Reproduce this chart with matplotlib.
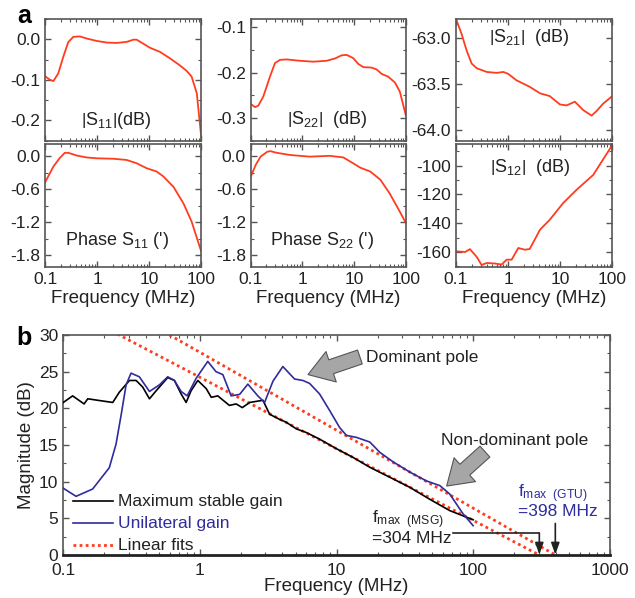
import math
import matplotlib
matplotlib.use("Agg")
import matplotlib.pyplot as plt
from matplotlib.ticker import FixedLocator, MultipleLocator, LogLocator, NullFormatter
from matplotlib.patches import FancyArrowPatch

plt.rcParams['font.family'] = ['Liberation Sans', 'DejaVu Sans']
plt.rcParams['mathtext.fontset'] = 'custom'
plt.rcParams['mathtext.rm'] = 'Liberation Sans'
plt.rcParams['mathtext.it'] = 'Liberation Sans:italic'
plt.rcParams['mathtext.bf'] = 'Liberation Sans:bold'
plt.rcParams['axes.unicode_minus'] = False

# ---------------- data: panel a ----------------
s11_mag_f = [0.1, 0.125, 0.145, 0.18, 0.225, 0.28, 0.35, 0.47, 0.63, 0.98, 1.53, 2.38, 3.7, 5.0, 5.8,
             7.8, 10.5, 16.2, 25.4, 39.8, 53, 66, 83, 100]
s11_mag = [-0.091, -0.100, -0.103, -0.084, -0.043, -0.007, 0.006, 0.007, 0.002, -0.004, -0.008, -0.009,
           -0.0065, -0.001, -0.001, -0.011, -0.021, -0.031, -0.047, -0.065, -0.078, -0.092, -0.133, -0.235]

s11_ph_f = [0.1, 0.145, 0.19, 0.24, 0.28, 0.41, 0.63, 0.98, 2.07, 3.7, 5.8, 9.0, 14, 18.9, 29.6, 46, 66, 100]
s11_ph = [-0.48, -0.19, -0.04, 0.06, 0.06, 0.01, -0.024, -0.04, -0.048, -0.07, -0.13, -0.22, -0.28, -0.37,
          -0.56, -0.86, -1.19, -1.72]

s22_mag_f = [0.1, 0.121, 0.140, 0.175, 0.236, 0.295, 0.369, 0.497, 0.90, 1.62, 2.94, 4.27, 5.75, 7.2, 9.6,
             12.1, 15.1, 21.9, 27.3, 34.3, 46, 62, 77, 100]
s22_mag = [-0.269, -0.276, -0.273, -0.253, -0.209, -0.179, -0.172, -0.171, -0.174, -0.176, -0.174, -0.169,
           -0.162, -0.161, -0.168, -0.181, -0.188, -0.189, -0.193, -0.203, -0.209, -0.222, -0.242, -0.293]

s22_ph_f = [0.1, 0.125, 0.155, 0.21, 0.24, 0.32, 0.58, 1.4, 3.4, 6.2, 9.6, 13.2, 20.6, 32.4, 49, 71, 100]
s22_ph = [-0.375, -0.16, -0.01, 0.08, 0.09, 0.06, 0.02, -0.01, 0.005, -0.024, -0.13, -0.21, -0.28, -0.43,
          -0.68, -0.95, -1.21]

s21_f = [0.1, 0.128, 0.16, 0.2, 0.25, 0.39, 0.6, 0.81, 1.0, 1.45, 2.6, 4.1, 6.3, 9.9, 13.3, 19.1, 27.6, 40,
         50, 67, 100]
s21 = [-62.80, -62.96, -63.14, -63.28, -63.33, -63.37, -63.38, -63.37, -63.39, -63.46, -63.53, -63.60,
       -63.63, -63.72, -63.73, -63.69, -63.78, -63.84, -63.79, -63.71, -63.63]

s12_f = [0.1, 0.15, 0.185, 0.215, 0.25, 0.31, 0.39, 0.56, 0.75, 0.94, 1.17, 1.57, 2.1, 2.6, 4.1, 6.3, 11.4,
         20.6, 43, 100]
s12 = [-159.5, -160, -158, -160.7, -163.4, -169, -167.6, -168, -168.7, -165.3, -165.3, -157.2, -158.4,
       -157.9, -144.5, -137.6, -126, -116.8, -106.5, -85.7]

# ---------------- data: panel b ----------------
msg_f = [0.1, 0.117, 0.142, 0.151, 0.194, 0.230, 0.257, 0.305, 0.341, 0.381, 0.427, 0.478, 0.581, 0.650,
         0.728, 0.792, 0.861, 0.964, 1.11, 1.21, 1.35, 1.64, 1.84, 2.04, 2.31, 2.89, 3.23, 3.82, 4.28, 5.07,
         6.0, 7.5, 9.95, 13.2, 17.5, 24.5, 34.3, 48.0, 67.3, 99.7]
msg = [20.8, 21.7, 20.6, 21.3, 21.0, 20.8, 22.2, 23.8, 23.8, 22.9, 21.3, 22.4, 24.2, 23.8, 21.96, 20.8,
       22.4, 23.8, 22.7, 21.5, 21.7, 20.4, 20.6, 20.1, 20.8, 21.1, 19.2, 18.5, 18.1, 17.2, 16.7, 15.8,
       14.5, 13.3, 11.96, 10.6, 9.23, 7.6, 6.05, 4.8]

gtu_f = [0.1, 0.124, 0.164, 0.217, 0.243, 0.265, 0.288, 0.313, 0.360, 0.427, 0.505, 0.581, 0.650, 0.728,
         0.806, 0.938, 1.14, 1.31, 1.47, 1.69, 1.95, 2.24, 2.65, 2.97, 3.42, 4.04, 4.92, 5.66, 6.34, 7.5,
         8.89, 10.5, 11.8, 13.9, 17.5, 20.7, 25.9, 34.3, 45.4, 56.9, 67.3, 84.2, 99.7]
gtu = [9.1, 8.0, 9.0, 11.9, 15.1, 19.1, 23.2, 24.8, 24.3, 22.3, 23.2, 24.3, 23.8, 22.3, 21.7, 24.1, 26.4,
       25.0, 24.6, 21.7, 21.9, 23.3, 21.7, 20.8, 23.7, 25.7, 24.0, 23.8, 23.4, 21.96, 19.7, 17.4, 16.3,
       16.05, 15.4, 14.0, 12.7, 11.3, 10.1, 9.46, 8.3, 5.6, 4.0]

fit_fmax = [304, 398]          # MHz, zero-crossing of each linear fit
fit_slope = [-9.76, -10.63]    # dB per decade
fit_fstart = [0.1, 0.1]

series_names = ['Maximum stable gain', 'Unilateral gain', 'Linear fits']

RED = '#ff3c1e'
BLUE = '#2f2c9c'
SPINE = '#555555'
TXT = '#222222'

W, H = 635, 598
fig = plt.figure(figsize=(W / 100, H / 100), dpi=100)


def rect(l, t, r, b):
    return [l / W, 1 - b / H, (r - l) / W, (b - t) / H]


def style_log_x(ax, labels):
    ax.set_xscale('log')
    ax.set_xlim(0.1, 100)
    ax.xaxis.set_major_locator(FixedLocator([0.1, 1, 10, 100]))
    ax.xaxis.set_minor_locator(LogLocator(base=10, subs=range(2, 10)))
    ax.xaxis.set_minor_formatter(NullFormatter())
    if labels:
        ax.set_xticklabels(['0.1', '1', '10', '100'])
    else:
        ax.set_xticklabels([])


def style_ax(ax, lw=1.2):
    for s in ax.spines.values():
        s.set_color(SPINE)
        s.set_linewidth(lw)
    ax.tick_params(which='both', direction='in', top=True, right=True, color=SPINE, labelsize=12.5,
                   labelcolor=TXT)
    ax.tick_params(which='major', length=4.5, width=1.0, pad=3.5)
    ax.tick_params(which='minor', length=2.5, width=0.8)


cols = [(45, 201), (250.7, 405.7), (456, 612.3)]
top_row = (19, 140.7)
bot_row = (144, 266.7)

panels = [
    (0, 0, s11_mag_f, s11_mag, (-0.25, 0.05), [0.0, -0.1, -0.2], ['0.0', '-0.1', '-0.2'], 0.05,
     r'$\left|\mathrm{S}_{11}\right|$(dB)', (0.455, 0.17)),
    (0, 1, s22_mag_f, s22_mag, (-0.35, -0.082), [-0.1, -0.2, -0.3], ['-0.1', '-0.2', '-0.3'], 0.05,
     r'$\left|\mathrm{S}_{22}\right|$  (dB)', (0.495, 0.176)),
    (0, 2, s21_f, s21, (-64.11, -62.8), [-63.0, -63.5, -64.0], ['-63.0', '-63.5', '-64.0'], 0.25,
     r'$\left|\mathrm{S}_{21}\right|$  (dB)', (0.467, 0.85)),
    (1, 0, s11_ph_f, s11_ph, (-2.01, 0.22), [0.0, -0.6, -1.2, -1.8], ['0.0', '-0.6', '-1.2', '-1.8'], 0.3,
     r"Phase S$_{11}$ (')", (0.46, 0.215)),
    (1, 1, s22_ph_f, s22_ph, (-2.01, 0.22), [0.0, -0.6, -1.2, -1.8], ['0.0', '-0.6', '-1.2', '-1.8'], 0.3,
     r"Phase S$_{22}$ (')", (0.46, 0.215)),
    (1, 2, s12_f, s12, (-170.2, -85), [-100, -120, -140, -160], ['-100', '-120', '-140', '-160'], 10,
     r'$\left|\mathrm{S}_{12}\right|$  (dB)', (0.473, 0.81)),
]

for row, col, fx, fy, ylim, yt, ytl, minor, label, lpos in panels:
    l, r = cols[col]
    t, b = top_row if row == 0 else bot_row
    ax = fig.add_axes(rect(l, t, r, b))
    ax.plot(fx, fy, color=RED, lw=1.3)
    style_log_x(ax, row == 1)
    ax.set_ylim(*ylim)
    ax.yaxis.set_major_locator(FixedLocator(yt))
    ax.set_yticklabels(ytl)
    ax.yaxis.set_minor_locator(MultipleLocator(minor))
    style_ax(ax)
    ax.text(lpos[0], lpos[1], label, transform=ax.transAxes, ha='center', va='center', fontsize=13,
            color=TXT)
    if row == 1:
        ax.set_xlabel('Frequency (MHz)', fontsize=13.5, labelpad=2.5, color=TXT)

fig.text(17 / W, 1 - 23 / H, 'a', fontsize=18, fontweight='bold', va='baseline', ha='left')
fig.text(16 / W, 1 - 345 / H, 'b', fontsize=18, fontweight='bold', va='baseline', ha='left')

# ---------------- panel b ----------------
axb = fig.add_axes(rect(63.3, 335, 610, 555))
for fm, sl, fs in zip(fit_fmax, fit_slope, fit_fstart):
    xs = [fs, fm]
    ys = [sl * math.log10(x / fm) for x in xs]
    axb.plot(xs, ys, color=RED, lw=2.0, ls=(0, (1, 1.2)), zorder=2)
axb.plot(msg_f, msg, color='black', lw=1.2, zorder=3)
axb.plot(gtu_f, gtu, color=BLUE, lw=1.2, zorder=3)

axb.set_xscale('log')
axb.set_xlim(0.1, 1000)
axb.set_ylim(0, 30)
axb.xaxis.set_major_locator(FixedLocator([0.1, 1, 10, 100, 1000]))
axb.set_xticklabels(['0.1', '1', '10', '100', '1000'])
axb.xaxis.set_minor_locator(LogLocator(base=10, subs=range(2, 10)))
axb.xaxis.set_minor_formatter(NullFormatter())
axb.yaxis.set_major_locator(MultipleLocator(5))
axb.yaxis.set_minor_locator(MultipleLocator(2.5))
style_ax(axb)
axb.spines['bottom'].set_linewidth(2.0)
axb.spines['bottom'].set_color(TXT)
axb.tick_params(axis='x', which='major', pad=6)
axb.set_xlabel('Frequency (MHz)', fontsize=13.5, labelpad=0, color=TXT)
axb.set_ylabel('Magnitude (dB)', fontsize=13.5, labelpad=3, color=TXT)

# legend (manual)
leg_y = [0.245, 0.144, 0.045]
leg_styles = [dict(color='black', lw=1.2, ls='-'), dict(color=BLUE, lw=1.2, ls='-'),
              dict(color=RED, lw=2.0, ls=(0, (1, 1.2)))]
leg_tc = [TXT, BLUE, TXT]
for yy, name, st, tc in zip(leg_y, series_names, leg_styles, leg_tc):
    axb.plot([0.0183, 0.0915], [yy, yy], transform=axb.transAxes, **st)
    axb.text(0.1006, yy, name, transform=axb.transAxes, ha='left', va='center', fontsize=12.5, color=tc)

# gray pointer arrows
for tip, tail in [((6.17, 24.6), (14.8, 27.0)), ((63.8, 9.4), (121.6, 14.1))]:
    axb.add_patch(FancyArrowPatch(tail, tip, arrowstyle='simple,head_length=0.8,head_width=1.05,tail_width=0.48',
                                  mutation_scale=22, fc='#a6a6a6', ec='#555555', lw=0.8, zorder=5,
                                  shrinkA=0, shrinkB=0))
axb.text(16.4, 26.9, 'Dominant pole', fontsize=12.5, ha='left', va='center', color=TXT)
axb.text(57.7, 15.6, 'Non-dominant pole', fontsize=12.5, ha='left', va='center', color=TXT)

# fmax annotations
axb.text(18.0, 4.75, r'f$_{\mathrm{max\ \ (MSG)}}$', fontsize=12.5, ha='left', va='center', color=TXT)
axb.text(18.0, 2.2, '=304 MHz', fontsize=12.5, ha='left', va='center', color=TXT)
axb.plot([70.5, fit_fmax[0]], [2.96, 2.96], color=TXT, lw=1.2)
axb.annotate('', xy=(fit_fmax[0], 0.05), xytext=(fit_fmax[0], 3.0),
             arrowprops=dict(arrowstyle='-|>,head_length=0.7,head_width=0.25', color=TXT, lw=1.2,
                             shrinkA=0, shrinkB=0))
axb.text(213, 8.4, r'f$_{\mathrm{max\ \ (GTU)}}$', fontsize=12.5, ha='left', va='center', color=BLUE)
axb.text(213, 6.0, '=398 MHz', fontsize=12.5, ha='left', va='center', color=BLUE)
axb.annotate('', xy=(fit_fmax[1], 0.05), xytext=(fit_fmax[1], 4.3),
             arrowprops=dict(arrowstyle='-|>,head_length=0.7,head_width=0.25', color=TXT, lw=1.2,
                             shrinkA=0, shrinkB=0))

fig.savefig('out.png', dpi=100)
